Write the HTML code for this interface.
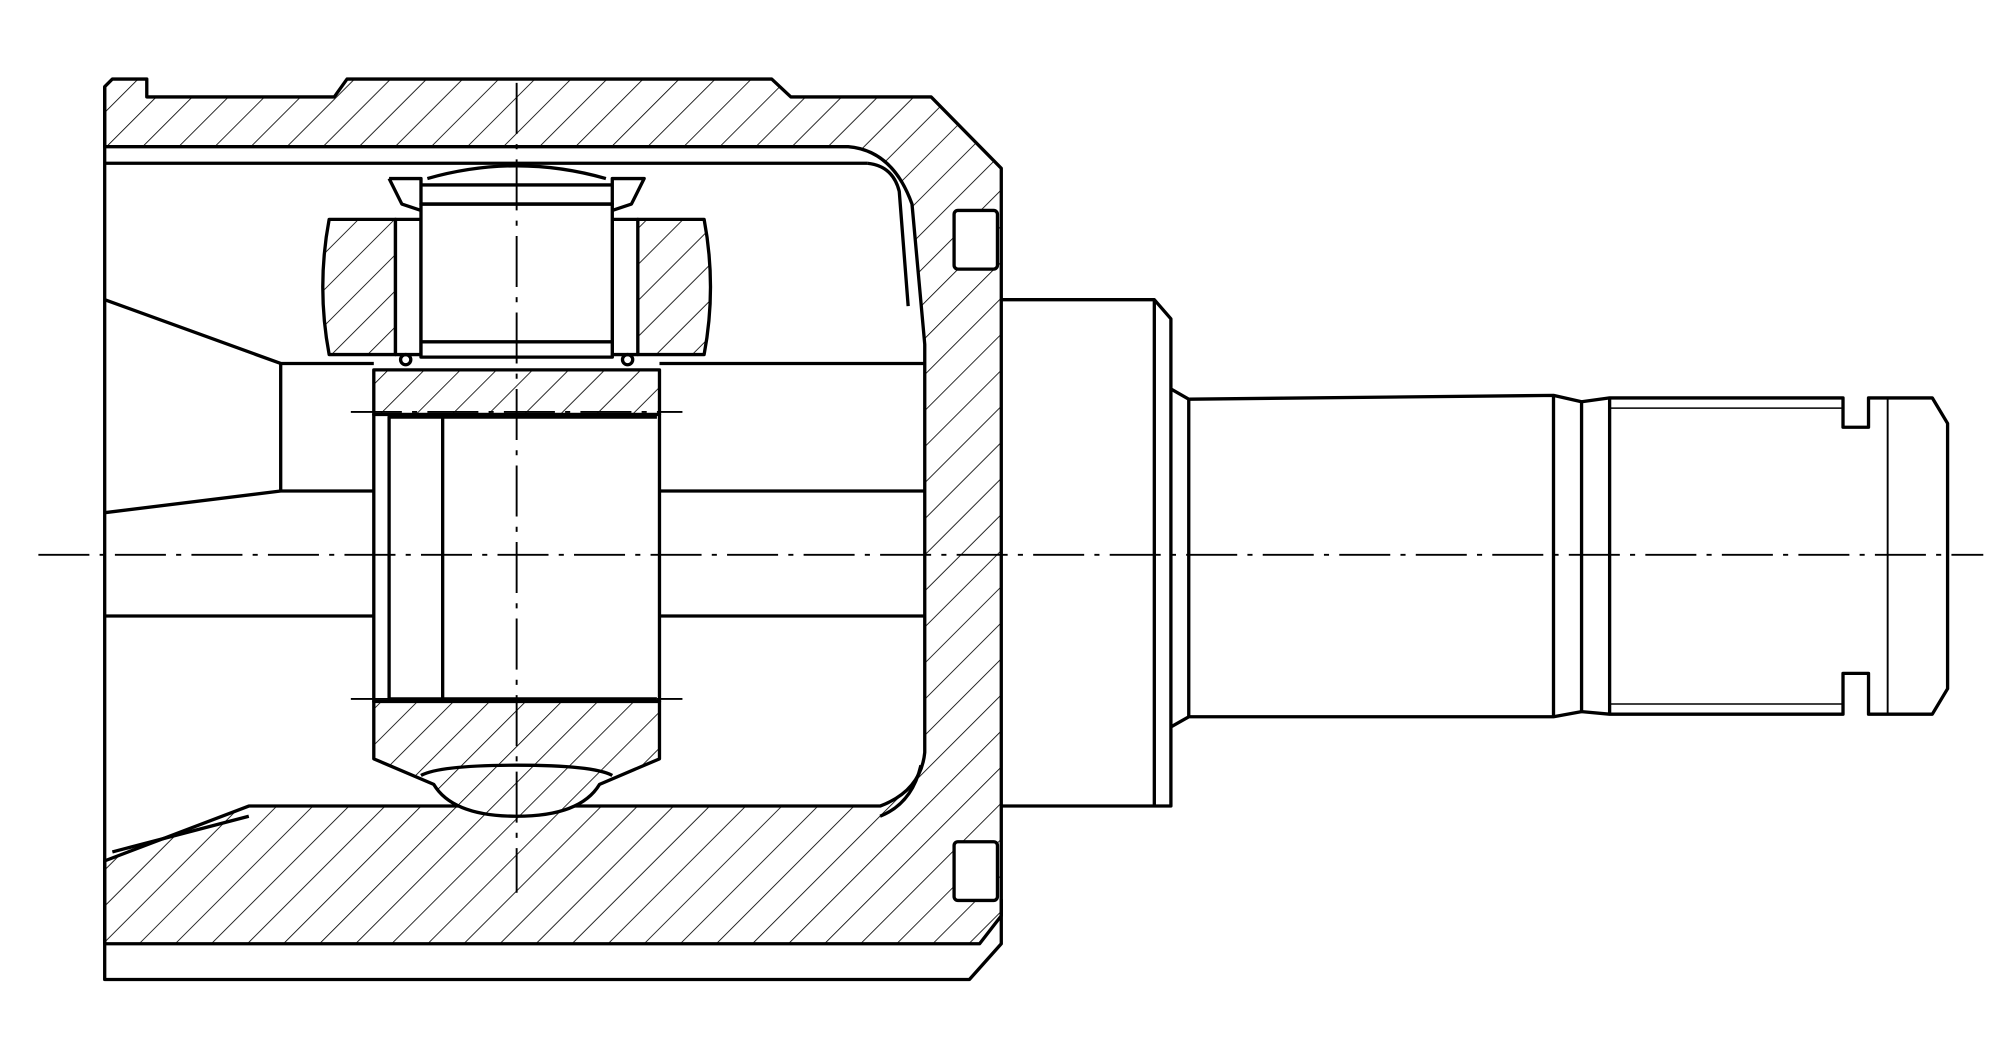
<!DOCTYPE html>
<html><head><style>html,body{margin:0;padding:0;background:#fff;}svg{display:block}</style></head>
<body>
<svg width="2000" height="1056" viewBox="0 0 1568 828" xmlns="http://www.w3.org/2000/svg">
<defs>
<pattern id="h" patternUnits="userSpaceOnUse" width="20" height="20" patternTransform="rotate(45)">
<rect width="20" height="20" fill="#fff"/><line x1="0" y1="0" x2="0" y2="20" stroke="#000" stroke-width="1.3"/>
</pattern>
</defs>
<g fill="none" stroke="#000" stroke-width="2.6" stroke-linejoin="round">
<!-- housing hatched region -->
<path fill="url(#h)" d="M82,68 L88,62 L115,62 L115,76 L262,76 L272,62 L605,62 L620,76 L730,76 L785,132 L785,718 L768,740 L82,740 L82,675 L195,632 L690,632 Q722,620 725,590 L725,270 L715,160 Q700,118 665,115 L82,115 Z"/>
<path d="M82,740 L82,768 L760,768 L785,740 L785,705"/>
<line x1="82" y1="68" x2="82" y2="740"/>
<line x1="82" y1="128" x2="680" y2="128"/>
<path d="M680,128 Q700,130 705,150 L712,240"/>
<path d="M690,640 Q715,630 722,600"/>
<!-- slots -->
<rect x="748" y="165" width="34" height="46" fill="#fff" rx="3"/>
<rect x="748" y="660" width="34" height="46" fill="#fff" rx="3"/>
<!-- inner shaft lines -->
<path d="M82,235 L220,285 L293,285"/>
<line x1="220" y1="285" x2="220" y2="385"/>
<path d="M82,402 L220,385 L293,385"/>
<line x1="82" y1="483" x2="293" y2="483"/>
<line x1="517" y1="285" x2="725" y2="285"/>
<line x1="517" y1="385" x2="725" y2="385"/>
<line x1="517" y1="483" x2="725" y2="483"/>
<path d="M88,668 L195,640"/>
<!-- spider -->
<rect x="293" y="290" width="224" height="35" fill="url(#h)"/>
<rect x="293" y="325" width="224" height="225" fill="#fff"/>
<rect x="305" y="327" width="42" height="221"/>
<line x1="347" y1="327" x2="515" y2="327"/>
<line x1="347" y1="548" x2="515" y2="548"/>
<path fill="url(#h)" d="M293,550 L517,550 L517,595 L470,615 Q455,640 405,640 Q355,640 340,615 L293,595 Z"/>
<path d="M330,608 Q345,600 405,600 Q465,600 480,608"/>
<!-- rollers -->
<path fill="url(#h)" d="M258,172 L310,172 L310,278 L258,278 Q248,225 258,172 Z"/>
<path fill="url(#h)" d="M500,172 L552,172 Q562,225 552,278 L500,278 Z"/>
<rect x="310" y="172" width="20" height="106" fill="#fff"/>
<rect x="480" y="172" width="20" height="106" fill="#fff"/>
<rect x="330" y="160" width="150" height="120" fill="#fff"/>
<line x1="330" y1="268" x2="480" y2="268"/>
<path d="M305,140 L330,140 L330,160 L480,160 L480,140 L505,140 L495,160 L480,165 M305,140 L315,160 L330,165"/>
<path d="M330,145 L480,145 M335,140 Q405,120 475,140"/>
<circle cx="318" cy="282" r="4"/><circle cx="492" cy="282" r="4"/>
<!-- stem flange -->
<path d="M785,235 L905,235 L918,250 L918,632 L905,632 L785,632"/>
<line x1="905" y1="235" x2="905" y2="632"/>
<path d="M918,305 L932,313 L1218,310 L1240,315 L1262,312 L1445,312 L1445,335 L1465,335 L1465,312 L1515,312 L1527,332 L1527,540 L1515,560 L1465,560 L1465,528 L1445,528 L1445,560 L1262,560 L1240,558 L1218,562 L932,562 L918,570"/>
<line x1="932" y1="313" x2="932" y2="562"/>
<line x1="1218" y1="310" x2="1218" y2="562"/>
<line x1="1240" y1="315" x2="1240" y2="558"/>
<line x1="1262" y1="312" x2="1262" y2="560"/>
<line x1="1480" y1="312" x2="1480" y2="560" stroke-width="1.5"/>
<line x1="1262" y1="320" x2="1445" y2="320" stroke-width="1.2"/>
<line x1="1262" y1="552" x2="1445" y2="552" stroke-width="1.2"/>
</g>
<g stroke="#000" stroke-width="1.5" stroke-dasharray="40,8,4,8" fill="none">
<line x1="30" y1="435" x2="1555" y2="435"/>
<line x1="405" y1="65" x2="405" y2="700"/>
<line x1="275" y1="323" x2="535" y2="323"/>
<line x1="275" y1="548" x2="535" y2="548"/>
</g>
</svg>
</body></html>
